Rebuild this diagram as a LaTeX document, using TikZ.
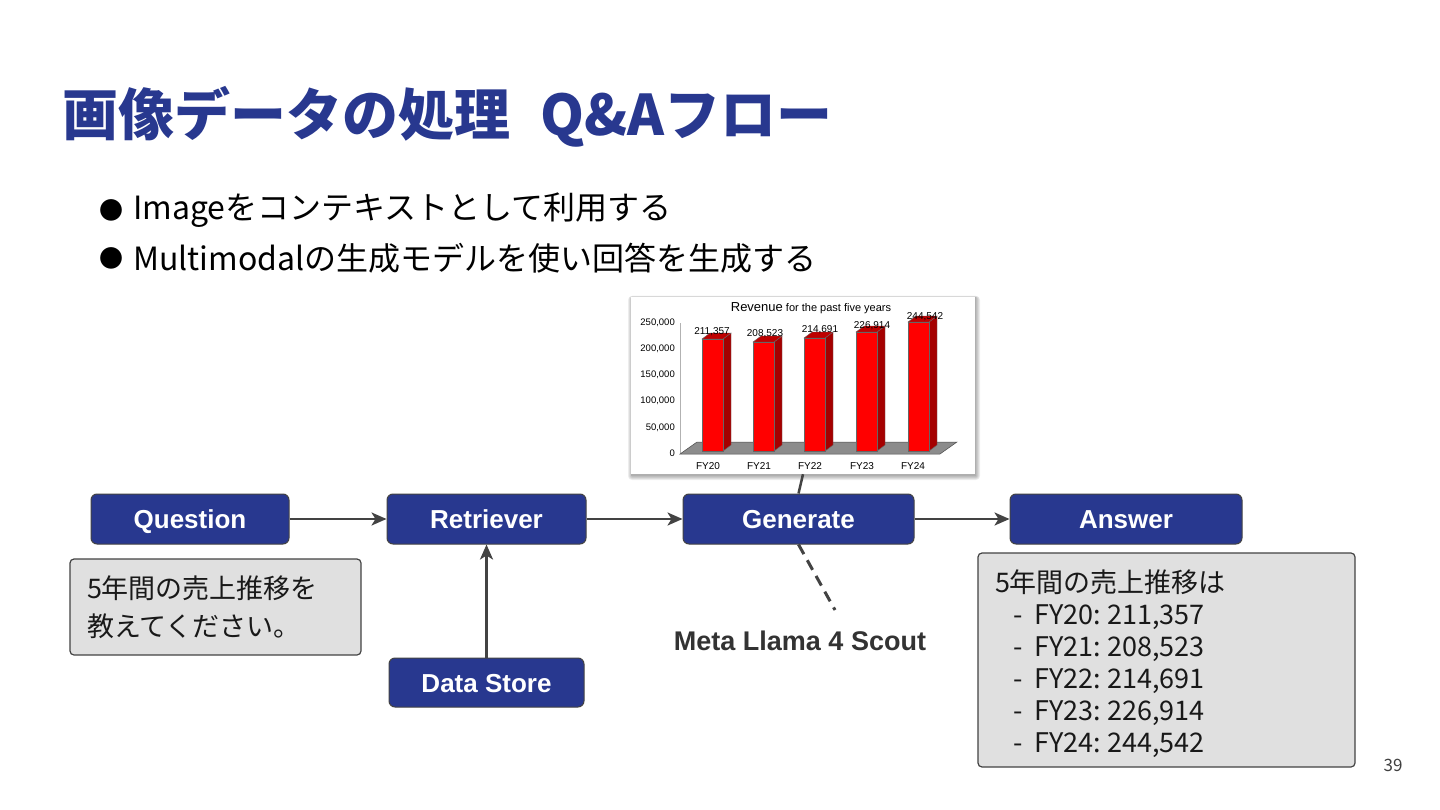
\documentclass[tikz,border=0pt]{standalone}
\usepackage{fontspec}
\setmainfont{Noto Sans CJK JP}
\newfontfamily\arial{Liberation Sans}
\usetikzlibrary{arrows.meta}
\definecolor{navy}{RGB}{40,56,143}
\definecolor{edge}{RGB}{67,67,67}
\definecolor{boxfill}{RGB}{224,224,224}
\definecolor{barfront}{RGB}{255,0,0}
\definecolor{barside}{RGB}{165,0,0}
\definecolor{bartop}{RGB}{190,0,0}
\definecolor{floorgray}{RGB}{140,140,140}
\tikzset{
  flow/.style={draw=edge, line width=1pt, fill=navy, rounded corners=6pt,
    minimum height=50pt, text=white, inner sep=0pt, text height=19pt, text depth=0pt,
    font=\arial\fontsize{26}{30}\selectfont\bfseries},
  conn/.style={draw=edge, line width=2.5pt, -{Stealth[length=15pt,width=13pt,inset=4pt]}},
  textbox/.style={draw=edge, line width=1.2pt, fill=boxfill, rounded corners=4pt,
    align=left, text=black!90, inner xsep=17pt, inner ysep=0pt},
  axislab/.style={font=\arial\fontsize{9.5}{10}\selectfont, anchor=east, inner sep=0pt},
  vallab/.style={font=\arial\fontsize{10}{10}\selectfont, inner sep=0pt},
  shadowlayer/.style={fill=black, opacity=0.07, draw=none},
}
\newcommand{\ansline}[1]{\hspace*{18pt}-\hspace*{12pt}#1}
\begin{document}
\begin{tikzpicture}[x=1pt,y=-1pt]
\useasboundingbox[fill=white] (0,0) rectangle (1440,810);

% title
\node[anchor=west, inner sep=0pt, text=navy, font=\fontsize{56}{60}\selectfont\bfseries] (title) at (62,117) {画像データの処理\hspace{30pt}Q\&Aフロー};

% bullets
\node[inner sep=0pt, font=\fontsize{24}{30}\selectfont] (b1) at (111,210) {●};
\node[anchor=west, inner sep=0pt, font=\fontsize{32}{36}\selectfont] (t1) at (133,210) {Imageをコンテキストとして利用する};
\node[inner sep=0pt, font=\fontsize{24}{30}\selectfont] (b2) at (111,258) {●};
\node[anchor=west, inner sep=0pt, font=\fontsize{32}{36}\selectfont] (t2) at (133,258) {Multimodalの生成モデルを使い回答を生成する};

% chart soft shadow
\fill[shadowlayer, rounded corners=4pt] (628,296) rectangle (980,480);
\fill[shadowlayer, rounded corners=3pt] (629,296) rectangle (979,479);
\fill[shadowlayer, rounded corners=2pt] (630,297) rectangle (978,478);
\fill[shadowlayer, rounded corners=1pt] (631,297) rectangle (977,477);
\fill[shadowlayer] (631,297) rectangle (976,476);
% chart
\node[fill=white, minimum width=344pt, minimum height=177pt, inner sep=0pt] (chart) at (803,385.5) {};
\node[inner sep=0pt, font=\arial\fontsize{11}{12}\selectfont] (ctitle) at (811,308)
  {{\fontsize{13}{13}\selectfont Revenue} for the past five years};
\draw[gray!60, line width=0.5pt] (680,323) -- (680,453);
\node[axislab] (y250) at (675,323) {250,000};
\node[axislab] (y200) at (675,349) {200,000};
\node[axislab] (y150) at (675,375) {150,000};
\node[axislab] (y100) at (675,401) {100,000};
\node[axislab] (y50) at (675,428) {50,000};
\node[axislab] (y0) at (675,453) {0};
% floor
\draw[fill=floorgray, draw=black!70, line width=0.5pt] (680,454) -- (697,442) -- (957,442) -- (940,454) -- cycle;
% bars: left x, top y
\foreach \x/\t in {702/339, 753/342, 804/338, 856/332, 908/322}{
  \draw[fill=barside, draw=black!60, line width=0.4pt] (\x+21,\t) -- (\x+29,\t-6) -- (\x+29,445) -- (\x+21,451) -- cycle;
  \draw[fill=bartop, draw=black!60, line width=0.4pt] (\x,\t) -- (\x+8,\t-6) -- (\x+29,\t-6) -- (\x+21,\t) -- cycle;
  \draw[fill=barfront, draw=black!60, line width=0.4pt] (\x,\t) rectangle (\x+21,451);
}
\node[vallab] (v20) at (712,332) {211,357};
\node[vallab] (v21) at (765,334) {208,523};
\node[vallab] (v22) at (820,330) {214,691};
\node[vallab] (v23) at (872,326) {226,914};
\node[vallab] (v24) at (925,317) {244,542};
\node[vallab] (f20) at (708,466) {FY20};
\node[vallab] (f21) at (759,466) {FY21};
\node[vallab] (f22) at (810,466) {FY22};
\node[vallab] (f23) at (862,466) {FY23};
\node[vallab] (f24) at (913,466) {FY24};

% flow nodes
\node[flow, minimum width=198pt] (q) at (190,519) {Question};
\node[flow, minimum width=199pt] (r) at (486.5,519) {Retriever};
\node[flow, minimum width=231pt] (g) at (798.5,519) {Generate};
\node[flow, minimum width=232pt] (a) at (1126,519) {Answer};
\node[flow, minimum width=195pt, minimum height=49pt] (ds) at (486.5,682.5) {Data Store};

\draw[conn] (q) -- (r);
\draw[conn] (r) -- (g);
\draw[conn] (g) -- (a);
\draw[conn] (ds) -- (r);
\draw[edge, line width=2.5pt] (chart.south) -- (g.north);

\coordinate (llend) at (835,610);
\draw[edge, line width=3pt, dash pattern=on 11pt off 7pt] (g.south) -- (llend);
\node[inner sep=0pt, text=black!80, font=\arial\fontsize{27}{30}\selectfont\bfseries] (llama) at (800,641) {Meta Llama 4 Scout};

% text boxes
\node[textbox, minimum width=291pt, minimum height=96pt, text width=257pt,
  font=\fontsize{27}{38}\selectfont] (qbox) at (215.5,607)
  {5年間の売上推移を\\教えてください。};
\node[textbox, minimum width=377pt, minimum height=214pt, text width=343pt,
  font=\fontsize{27}{32}\selectfont] (abox) at (1166.5,660)
  {\rule{0pt}{31pt}5年間の売上推移は\\
   \ansline{FY20:\hspace{6pt}211,357}\\
   \ansline{FY21:\hspace{6pt}208,523}\\
   \ansline{FY22:\hspace{6pt}214,691}\\
   \ansline{FY23:\hspace{6pt}226,914}\\
   \ansline{FY24:\hspace{6pt}244,542}};

\node[inner sep=0pt, text=black!75, font=\fontsize{17}{20}\selectfont] (pg) at (1393,765) {39};
\end{tikzpicture}
\end{document}
